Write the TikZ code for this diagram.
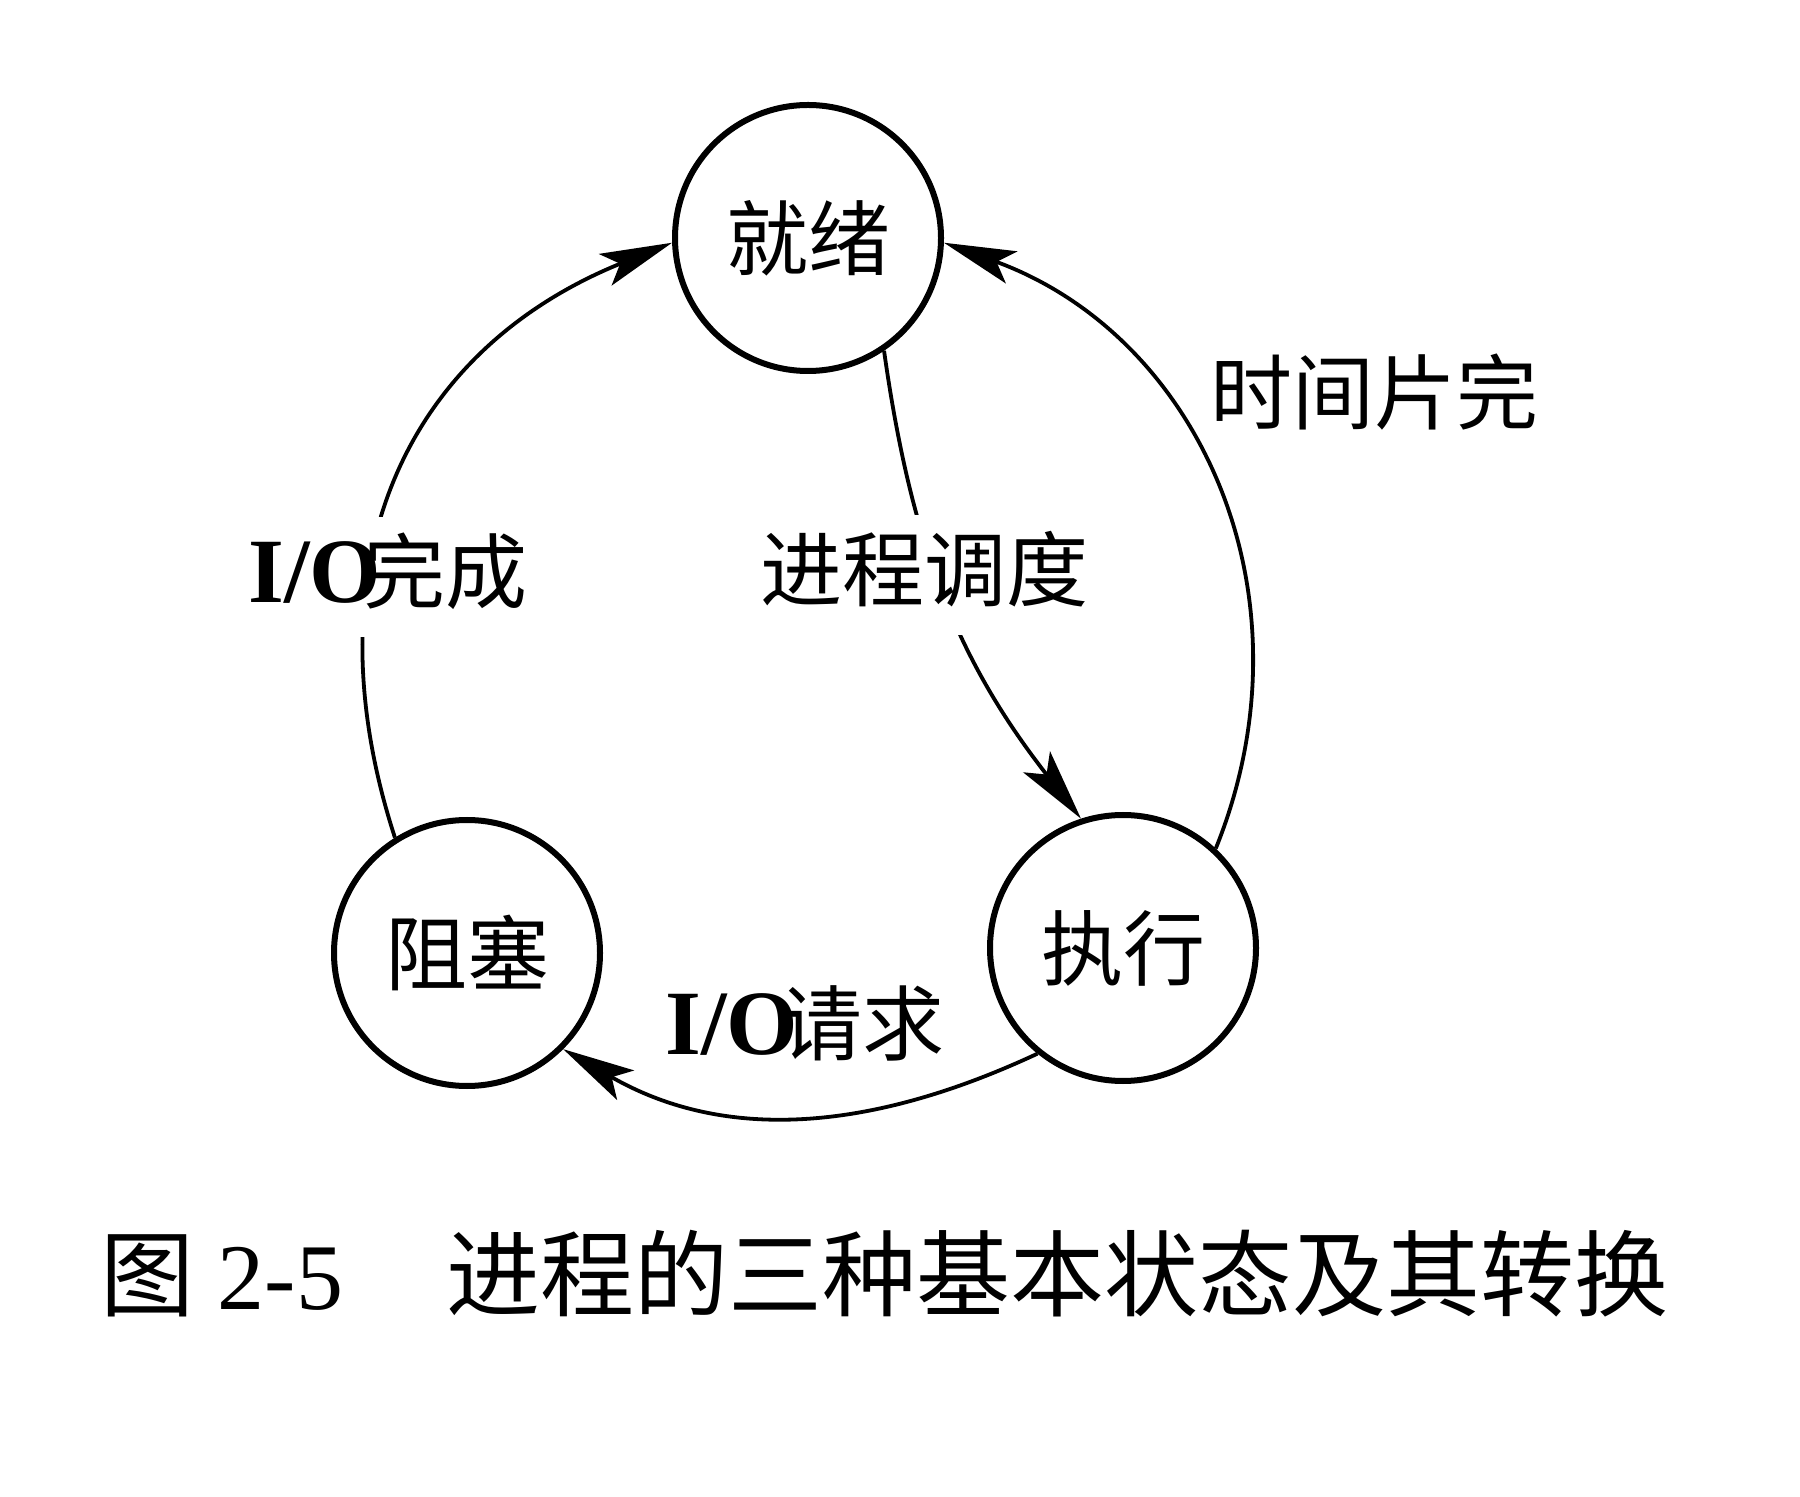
\documentclass[tikz,border=0pt]{standalone}
\usepackage{fontspec}
\setmainfont{Liberation Serif}
\newfontfamily\cjk{Noto Sans CJK SC}
\usetikzlibrary{arrows.meta}
% bold Latin "I/O" tucked against the following Chinese word
\newcommand{\ioword}{{\normalfont\bfseries\fontsize{46}{52}\selectfont I/O}\hspace{-9pt}}

\begin{document}
\begin{tikzpicture}[x=0.5pt,y=0.5pt,
  state/.style={circle,draw,line width=3pt,minimum size=133pt,inner sep=0pt,
    font=\cjk\fontsize{41}{48}\selectfont},
  conn/.style={line width=1.9pt,
    -{Stealth[length=36pt,width=17pt,inset=8pt]}},
  lbl/.style={font=\cjk\fontsize{41}{48}\selectfont,text height=26pt,text depth=0pt,
    inner xsep=0pt,inner ysep=0pt},
  gaplbl/.style={lbl,fill=white,minimum height=60pt}
]
\useasboundingbox (0,0) rectangle (1800,1496);

% the three process states
\node[state] (ready)   at (808,1258) {就绪};
\node[state] (blocked) at (467,543)  {阻塞};
\node[state] (running) at (1123,548) {执行};

% transitions
\draw[conn] (blocked.122) to[out=108,in=202,looseness=1.12] (ready.182);
\draw[conn] (running.47)  to[out=68,in=-20,looseness=1.05] (ready.-2);
\draw[conn] (ready.-56)   to[out=-82,in=128] (running.108);
\draw[conn] (running.231) to[out=205,in=-30] (blocked.-45);

% transition labels
\node[lbl]    (tslice)   at (1374,1098) {时间片完};
\node[gaplbl] (dispatch) at (924,921)   {进程调度};
\node[gaplbl] (iodone)   at (388,919)   {\ioword 完成};
\node[lbl]    (ioreq)    at (805,468)   {\ioword 请求};

% caption
\node[anchor=base west,inner sep=0pt,font=\fontsize{47}{56}\selectfont] (caption) at (100,187)
  {{\cjk 图} 2-5\hspace{1.1em}{\cjk 进程的三种基本状态及其转换}};
\end{tikzpicture}
\end{document}
